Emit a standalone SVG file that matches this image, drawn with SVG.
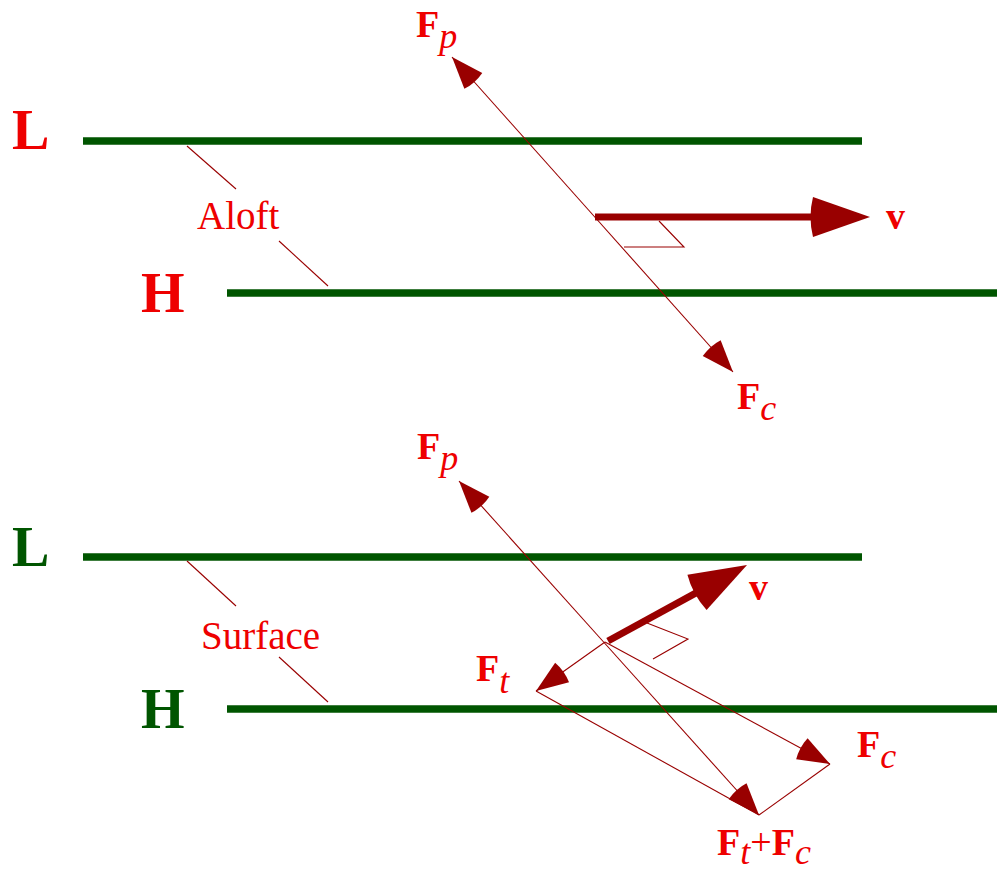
<svg xmlns="http://www.w3.org/2000/svg" width="997" height="871" viewBox="0 0 997 871">
<defs>
<style>
.iso{stroke:#005500;stroke-width:7.5;fill:none}
.thin{stroke:#990000;stroke-width:1.1;fill:none}
.thick{stroke:#990000;stroke-width:7;fill:none}
.lbl{font-family:"Liberation Serif","Times New Roman",serif;fill:#ee0000}
.big{font-size:56px;font-weight:bold}
.word{font-size:39px}
.vec{font-size:38px}
.b{font-weight:bold}
.i{font-style:italic;font-size:36px}
.red{fill:#ee0000}
.green{fill:#005500}
</style>
<marker id="ah" markerUnits="userSpaceOnUse" markerWidth="40" markerHeight="30" refX="0" refY="0" orient="auto" style="overflow:visible">
<path d="M0,0 L-32,-12 Q-35,0 -32,12 Z" fill="#990000"/>
</marker>
<marker id="ahv" markerUnits="userSpaceOnUse" markerWidth="60" markerHeight="44" refX="0" refY="0" orient="auto" style="overflow:visible">
<path d="M57,0 L0,-20 Q-5,0 0,20 Z" fill="#990000"/>
</marker>
</defs>
<rect width="997" height="871" fill="#ffffff"/>

<g id="aloft-isobars">
<line class="iso" x1="83" y1="141" x2="862" y2="141"/>
<line class="iso" x1="227" y1="293" x2="997" y2="293"/>
</g>
<g id="surface-isobars">
<line class="iso" x1="83" y1="557" x2="862" y2="557"/>
<line class="iso" x1="227" y1="709" x2="997" y2="709"/>
</g>

<g id="connectors">
<line class="thin" x1="187" y1="146" x2="236" y2="189"/>
<line class="thin" x1="279" y1="241" x2="328" y2="286"/>
<line class="thin" x1="187" y1="561" x2="236" y2="606"/>
<line class="thin" x1="279" y1="657" x2="328" y2="702"/>

<line class="thin" x1="593" y1="215" x2="452" y2="57" marker-end="url(#ah)"/>
<line class="thin" x1="593" y1="215" x2="733" y2="372" marker-end="url(#ah)"/>
<line class="thick" x1="595" y1="217" x2="813" y2="217" marker-end="url(#ahv)"/>
<polyline class="thin" points="659,221 684,247 624,247"/>

<line class="thin" x1="603.6" y1="642" x2="459" y2="481" marker-end="url(#ah)"/>
<line class="thin" x1="603.6" y1="642" x2="759" y2="815" marker-end="url(#ah)"/>
<line class="thin" x1="605" y1="642" x2="536" y2="691" marker-end="url(#ah)"/>
<line class="thin" x1="605" y1="642" x2="830" y2="764" marker-end="url(#ah)"/>
<line class="thin" x1="536" y1="691" x2="759" y2="815"/>
<line class="thin" x1="830" y1="764" x2="759" y2="815"/>
<line class="thick" x1="608" y1="641" x2="697" y2="592.4" marker-end="url(#ahv)"/>
<polyline class="thin" points="647,623 688,639 653,659"/>
</g>

<g id="label-L-aloft"><text class="lbl big red" x="12" y="149">L</text></g>
<g id="label-H-aloft"><text class="lbl big red" x="141" y="312">H</text></g>
<g id="label-aloft"><text class="lbl word" x="197" y="229">Aloft</text></g>
<g id="label-Fp-aloft"><text class="lbl vec" x="416" y="37"><tspan class="b">F</tspan><tspan class="i" dy="11">p</tspan></text></g>
<g id="label-v-aloft"><text class="lbl vec b" x="886" y="229">v</text></g>
<g id="label-Fc-aloft"><text class="lbl vec" x="737" y="409"><tspan class="b">F</tspan><tspan class="i" dy="11">c</tspan></text></g>

<g id="label-L-surface"><text class="lbl big green" x="12" y="566">L</text></g>
<g id="label-H-surface"><text class="lbl big green" x="141" y="728">H</text></g>
<g id="label-surface"><text class="lbl word" x="201" y="649">Surface</text></g>
<g id="label-Fp-surface"><text class="lbl vec" x="417" y="459"><tspan class="b">F</tspan><tspan class="i" dy="11">p</tspan></text></g>
<g id="label-v-surface"><text class="lbl vec b" x="749" y="600">v</text></g>
<g id="label-Ft"><text class="lbl vec" x="476" y="681"><tspan class="b">F</tspan><tspan class="i" dy="12">t</tspan></text></g>
<g id="label-Fc-surface"><text class="lbl vec" x="857" y="757"><tspan class="b">F</tspan><tspan class="i" dy="11">c</tspan></text></g>
<g id="label-Ft-plus-Fc"><text class="lbl vec" x="717" y="855"><tspan class="b">F</tspan><tspan class="i" dy="9">t</tspan><tspan dy="-9">+</tspan><tspan class="b">F</tspan><tspan class="i" dy="9">c</tspan></text></g>
</svg>
